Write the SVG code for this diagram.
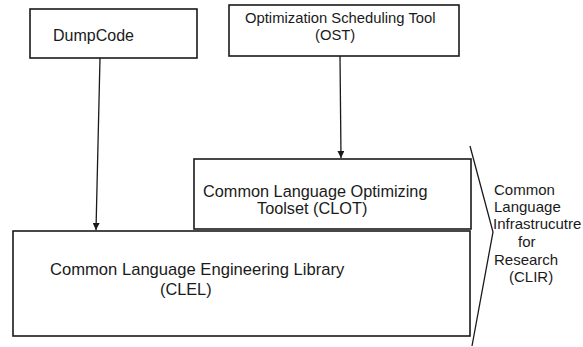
<svg xmlns="http://www.w3.org/2000/svg" width="583" height="347" viewBox="0 0 583 347">
  <style>
    .box { fill: #ffffff; stroke: #1a1a1a; stroke-width: 1.6; }
    .lbl { font-family: "Liberation Sans", Arial, sans-serif; font-size: 14.8px; fill: #1a1a1a; }
    .big { font-size: 16.3px; }
    .side { font-size: 15px; }
    .wire { fill: none; stroke: #1a1a1a; stroke-width: 1.3; }
  </style>
  <defs>
    <marker id="arrow" viewBox="0 0 10 10" refX="10" refY="5" markerWidth="7" markerHeight="7" markerUnits="userSpaceOnUse" orient="auto">
      <path d="M0,0 L10,5 L0,10 z" fill="#1a1a1a"/>
    </marker>
  </defs>
  <rect width="583" height="347" fill="#ffffff"/>

  <g id="dumpcode">
    <rect class="box" x="30" y="9" width="167" height="49"/>
    <text class="lbl" x="53" y="41" style="font-size:16px">DumpCode</text>
  </g>

  <g id="ost">
    <rect class="box" x="229" y="5" width="230" height="51"/>
    <text class="lbl" x="245" y="23">Optimization Scheduling Tool</text>
    <text class="lbl" x="315" y="40">(OST)</text>
  </g>

  <g id="clot">
    <rect class="box" x="194" y="159" width="277" height="70"/>
    <text class="lbl big" x="203" y="197">Common Language Optimizing</text>
    <text class="lbl big" x="257" y="214">Toolset (CLOT)</text>
  </g>

  <g id="clel">
    <rect class="box" x="13" y="231" width="457" height="105"/>
    <text class="lbl big" x="50" y="275" style="font-size:16.6px">Common Language Engineering Library</text>
    <text class="lbl big" x="160" y="295">(CLEL)</text>
  </g>

  <g id="clir">
    <path class="wire" d="M470,146 L493,232 L472,346"/>
    <text class="lbl side">
      <tspan x="494" y="195">Common</tspan>
      <tspan x="494" y="212">Language</tspan>
      <tspan x="493" y="229">Infrastrucutre</tspan>
      <tspan x="518" y="247">for</tspan>
      <tspan x="494" y="265">Research</tspan>
      <tspan x="509" y="282">(CLIR)</tspan>
    </text>
  </g>

  <g id="connectors">
    <path class="wire" d="M100,58 L96,230" marker-end="url(#arrow)"/>
    <path class="wire" d="M340,56 L341,158" marker-end="url(#arrow)"/>
  </g>
</svg>
